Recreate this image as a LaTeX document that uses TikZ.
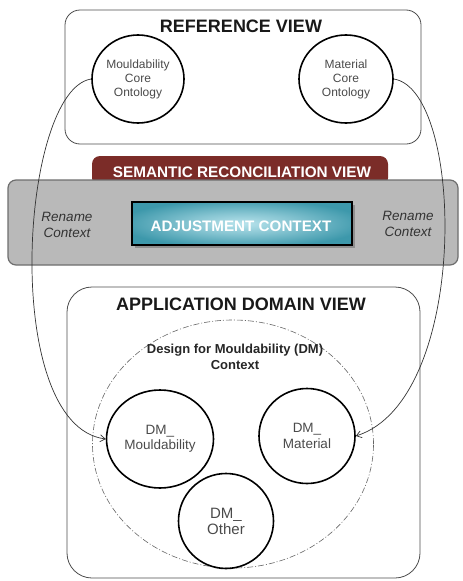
\documentclass[tikz,border=0pt]{standalone}
\usepackage{fontspec}
\setmainfont{Liberation Sans}
\usetikzlibrary{shapes.geometric,arrows.meta}
\definecolor{tabred}{HTML}{7B2C28}
\definecolor{bandgray}{HTML}{B9B9B9}
\definecolor{bandedge}{HTML}{6E6E6E}
\definecolor{tdark}{HTML}{3D98AB}
\definecolor{tlight}{HTML}{B8E3EC}
\definecolor{txtgray}{HTML}{4A4A4A}
\pgfdeclareradialshading{tealglow}{\pgfpoint{0bp}{0bp}}{color(0bp)=(tlight); color(12bp)=(tlight!60!tdark); color(28bp)=(tdark); color(50bp)=(tdark)}
\tikzset{
  viewbox/.style={draw=black!70, line width=0.8pt},
  onto/.style={ellipse, draw=black, line width=1.6pt, inner sep=0pt, align=center, text=txtgray},
  title/.style={font=\fontsize{18}{20}\selectfont\bfseries, text=black!90, anchor=base, inner sep=0pt},
  rename/.style={font=\fontsize{13.5}{16}\selectfont\itshape, text=black!80, align=center, inner sep=0pt},
  link/.style={draw=black!80, line width=0.7pt, -{Straight Barb[length=5pt,width=7pt]}},
}
\begin{document}
\begin{tikzpicture}[x=1pt,y=-1pt]
\useasboundingbox (0,0) rectangle (463,581);
% reference view
\draw[viewbox, rounded corners=15pt] (65,10) rectangle (421,144);
\node[title] (reftitle) at (241,32) {REFERENCE VIEW};
\node[onto, minimum width=92pt, minimum height=88pt, font=\fontsize{12}{14}\selectfont] (refMould) at (138,79) {Mouldability\\Core\\Ontology};
\node[onto, minimum width=94pt, minimum height=88pt, font=\fontsize{12}{14}\selectfont] (refMat) at (346,79) {Material\\Core\\Ontology};
% semantic reconciliation view
\fill[tabred, rounded corners=8pt] (92,186) -- (92,156) -- (388,156) -- (388,186) -- cycle;
\node[font=\fontsize{15.3}{17}\selectfont\bfseries, text=white, anchor=base, inner sep=0pt] (semtitle) at (242,177) {SEMANTIC RECONCILIATION VIEW};
\draw[fill=bandgray, draw=bandedge, line width=1.2pt, rounded corners=8pt] (8,180) rectangle (458,265);
\fill[black!55, opacity=0.6] (135,205) rectangle (355,248);
\shade[shading=tealglow] (132,202) rectangle (352,245);
\draw[black, line width=2pt] (132,202) rectangle (352,245);
\node[font=\fontsize{15.2}{17}\selectfont\bfseries, text=white, anchor=base, inner sep=0pt] (adjust) at (241,231) {ADJUSTMENT CONTEXT};
\node[rename] (renameL) at (67,225) {Rename\\Context};
\node[rename] (renameR) at (408,224) {Rename\\Context};
% application domain view
\draw[viewbox, rounded corners=25pt] (67,287) rectangle (420,578);
\node[title] (apptitle) at (241,310) {APPLICATION DOMAIN VIEW};
\node[ellipse, draw=black!60, line width=0.6pt, dash pattern=on 6pt off 2pt on 1pt off 2pt, minimum width=281pt, minimum height=248pt] (dmctx) at (233,444) {};
\node[font=\fontsize{13}{16}\selectfont\bfseries, text=black!85, align=center, anchor=base, inner sep=0pt] (dmtitle) at (235,369) {Design for Mouldability (DM)\\Context};
\node[onto, minimum width=107pt, minimum height=98pt, font=\fontsize{13.5}{15.5}\selectfont] (dmMould) at (160,439) {DM\_\\Mouldability};
\node[onto, minimum width=96pt, minimum height=95pt, font=\fontsize{13.5}{15.5}\selectfont] (dmMat) at (307,436) {DM\_\\Material};
\node[onto, minimum width=95pt, minimum height=95pt, font=\fontsize{15}{16}\selectfont] (dmOther) at (226,521) {DM\_\\Other};
% connectors
\draw[link] (refMould.west) .. controls (20,90) and (0,425) .. (dmMould.west);
\draw[link] (refMat.east) .. controls (465,90) and (470,400) .. (dmMat.east);
\end{tikzpicture}
\end{document}
